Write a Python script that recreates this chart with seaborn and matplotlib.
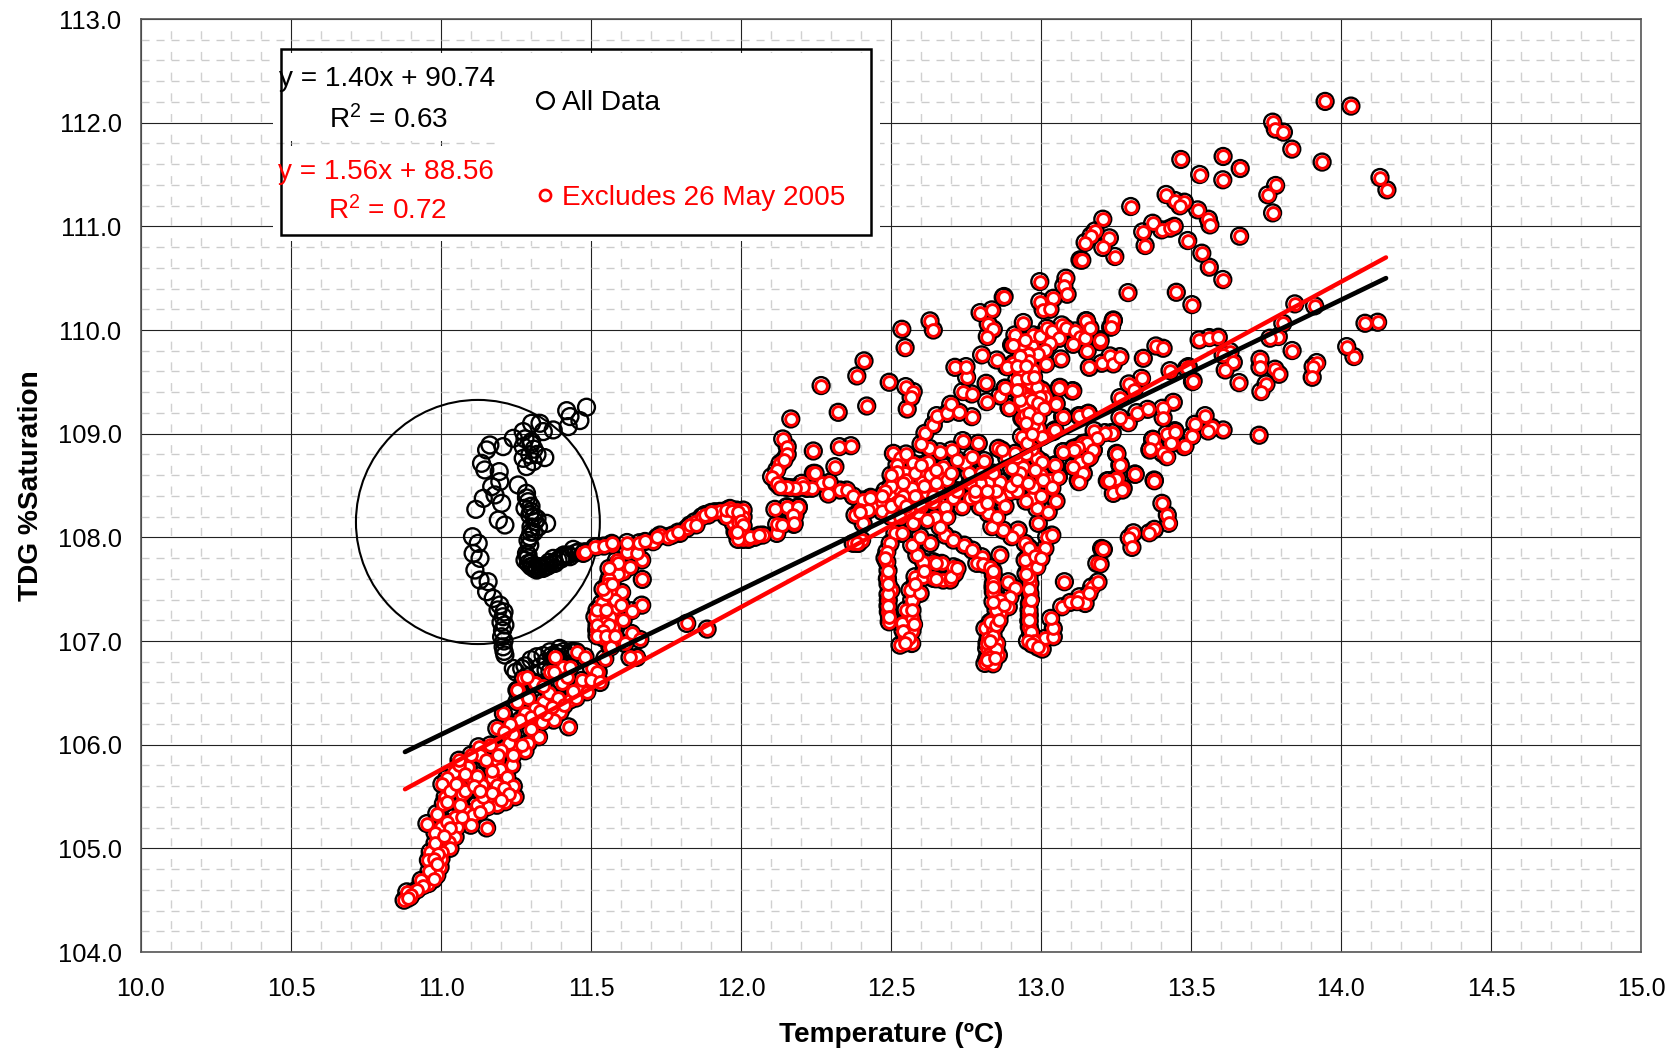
import numpy as np
import pandas as pd
import matplotlib
matplotlib.use("Agg")
import matplotlib.pyplot as plt
import seaborn as sns
from matplotlib.lines import Line2D
from matplotlib.patches import Ellipse, Rectangle
from matplotlib.ticker import MultipleLocator

# --- points that only exist in "All Data" (26 May 2005) ---
may26_pts = [
    (11.485,109.255),(11.463,109.126),(11.419,109.222),(11.43,109.165),(11.424,109.068),(11.374,109.036),
    (11.33,109.1),(11.302,109.1),(11.341,109.02),(11.274,109.02),(11.241,108.955),(11.207,108.875),
    (11.163,108.891),(11.152,108.843),(11.302,108.923),(11.274,108.875),(11.346,108.769),(11.296,108.795),
    (11.274,108.762),(11.285,108.682),(11.307,108.73),(11.135,108.714),(11.146,108.65),(11.194,108.634),
    (11.196,108.537),(11.169,108.489),(11.18,108.409),(11.202,108.328),(11.141,108.376),(11.116,108.27),
    (11.191,108.167),(11.213,108.119),(11.257,108.505),(11.285,108.425),(11.291,108.344),(11.28,108.28),
    (11.296,108.215),(11.313,108.151),(11.352,108.135),(11.296,108.006),(11.296,107.926),(11.285,107.845),
    (11.291,107.749),(11.319,107.685),(11.352,107.717),(11.38,107.749),(11.402,107.813),(11.441,107.884),
    (11.43,107.813),(11.374,107.797),(11.33,107.717),(11.105,108.006),(11.124,107.942),(11.107,107.845),
    (11.13,107.797),(11.113,107.685),(11.13,107.588),(11.157,107.572),(11.152,107.475),(11.174,107.411),
    (11.196,107.347),(11.207,107.234),(11.213,107.154),(11.202,107.041),(11.213,106.864),(11.207,106.944),
    (11.241,106.735),(11.269,106.735),(11.319,106.848),(11.363,106.896),(11.43,106.896),(11.385,106.848),
    (11.33,106.751),(11.396,106.928),(11.3,108.05),(11.29,107.97),(11.29,107.8),(11.305,107.72),
    (11.335,107.7),(11.36,107.76),(11.41,107.83),(11.46,107.86),(11.3,108.1),(11.285,108.38),
    (11.28,107.78),(11.3,107.72),(11.31,107.7),(11.32,107.69),(11.34,107.7),(11.345,107.72),
    (11.36,107.73),(11.375,107.75),(11.39,107.78),(11.4,107.79),(11.415,107.82),(11.425,107.83),
    (11.45,107.85),(11.29,107.83),(11.3,107.75),(11.32,107.72),(11.25,106.7),(11.28,106.76),
    (11.3,106.82),(11.34,106.86),(11.35,106.8),(11.37,106.86),(11.39,106.88),(11.41,106.9),
    (11.44,106.9),(11.42,106.85),(11.4,106.8),(11.35,106.72),(11.21,106.9),(11.205,107.1),
    (11.21,107.0),(11.2,107.18),(11.21,107.28),(11.19,107.3),(11.3,108.9),(11.31,108.85),
    (11.28,108.95),(11.32,108.8),(11.3,108.3),(11.3,108.25),(11.31,108.2),(11.32,108.18),
    (11.325,108.1),(11.31,108.05),
]

# --- points in both series ---
low_pts = [
    (11.452,106.896),(11.48,106.848),(11.38,106.848),(11.407,106.751),(11.524,106.703),(11.363,106.703),
    (11.313,106.591),(11.274,106.639),(11.257,106.526),(11.502,106.735),(11.563,106.944),(11.546,106.831),
    (11.375,106.703),(11.314,106.597),(11.286,106.655),(11.253,106.526),(11.519,106.703),(11.464,106.559),
    (11.403,106.591),(11.486,106.51),(11.43,106.43),(11.397,106.317),(11.425,106.172),(11.375,106.237),
    (11.341,106.414),(11.314,106.35),(11.28,106.301),(11.336,106.221),(11.325,106.076),(11.291,106.018),
    (11.28,105.941),(11.247,105.941),(11.225,106.012),(11.186,106.156),(11.208,106.301),(11.264,106.237),
    (11.253,106.414),(11.125,105.98),(11.13,105.899),(11.164,105.996),(11.186,105.851),(11.236,105.802),
    (11.197,105.77),(11.091,105.786),(11.044,105.738),(11.019,105.674),(11.003,105.619),(11.064,105.593),
    (11.103,105.674),(11.136,105.61),(11.169,105.683),(11.186,105.61),(11.219,105.69),(11.241,105.6),
    (11.247,105.497),(11.214,105.449),(11.186,105.416),(11.155,105.481),(11.155,105.4),(11.119,105.416),
    (11.086,105.352),(11.108,105.32),(11.069,105.522),(11.064,105.416),(11.014,105.497),(11.008,105.432),
    (10.986,105.336),(10.953,105.239),(11.0,105.207),(11.099,105.223),(11.152,105.197),(11.053,105.207),
    (11.047,105.111),(11.025,105.063),(11.03,105.0),(11.002,104.966),(10.964,104.966),(10.958,104.886),
    (10.997,104.821),(10.986,104.741),(10.958,104.66),(10.934,104.692),(10.908,104.58),(10.886,104.58),
    (10.877,104.5),(10.897,104.532),(11.36,106.5),(11.42,106.65),(11.45,106.45),(11.39,106.45),
    (11.35,106.3),(11.3,106.15),(11.24,106.1),(11.2,105.95),(11.15,105.85),(11.1,105.9),
    (11.06,105.8),(11.12,105.7),(11.08,105.55),(11.03,105.55),(11.14,105.5),(11.2,105.52),
    (11.045,105.3),(11.02,105.25),(10.98,105.15),(10.98,105.05),(11.0,104.9),(10.96,104.78),
    (11.02,105.45),(11.05,105.62),(11.08,105.72),(11.11,105.6),(11.13,105.55),(11.17,105.53),
    (11.21,105.58),(11.225,105.52),(11.2,105.47),(11.13,105.35),(11.07,105.3),(11.03,105.2),
    (11.01,105.12),(10.99,104.95),(10.975,104.9),(10.985,104.85),(10.975,104.7),(10.94,104.64),
    (10.92,104.6),(10.9,104.55),(10.89,104.52),(11.06,105.85),(11.17,105.75),(11.19,105.9),
    (11.24,105.9),(11.27,106.0),(11.3,106.27),(11.33,106.32),(11.37,106.36),(11.41,106.38),
    (11.44,106.52),(11.47,106.62),(11.5,106.62),(11.53,106.6),(11.43,106.75),(11.34,106.57),
    (11.29,106.45),(11.23,106.2),(11.21,106.12),
]
trail_pts = [
    (11.474,107.845),(11.519,107.91),(11.569,107.926),(11.48,107.861),(11.513,107.909),(11.543,107.916),
    (11.569,107.942),(11.585,107.781),(11.607,107.668),(11.63,107.716),(11.619,107.855),(11.669,107.781),
    (11.652,107.845),(11.661,107.948),(11.707,107.958),(11.73,108.022),(11.757,108.006),(11.796,108.038),
    (11.819,108.086),(11.846,108.151),(11.869,108.199),(11.891,108.215),(11.913,108.247),(11.941,108.231),
    (11.963,108.279),(11.985,108.263),(12.007,108.263),(12.007,108.199),(11.974,108.134),(12.007,108.109),
    (11.98,108.054),(11.996,108.022),(12.007,107.98),(12.024,107.98),(12.046,108.0),(12.072,108.022),
    (12.119,108.038),(12.119,108.125),(12.176,108.125),(12.18,108.215),(12.113,108.27),(12.152,108.289),
    (12.191,108.289),(11.671,107.594),(11.669,107.346),(11.602,107.469),(11.563,107.485),(11.569,107.588),
    (11.535,107.362),(11.58,107.314),(11.635,107.292),(11.53,107.272),(11.607,107.201),(11.563,107.234),
    (11.513,107.234),(11.546,107.17),(11.574,107.121),(11.519,107.105),(11.543,107.025),(11.635,107.073),
    (11.663,107.015),(11.613,106.976),(11.566,106.944),(11.652,106.841),(11.63,106.841),(11.819,107.17),
    (11.887,107.115),(11.59,107.65),(11.56,107.6),(11.58,107.4),(11.55,107.45),(11.6,107.35),
    (11.52,107.3),(11.56,107.15),(11.59,107.75),(11.77,108.02),(11.83,108.12),(11.88,108.22),
    (11.93,108.25),(11.95,108.2),(11.99,108.15),(12.0,108.06),(12.139,108.949),(12.154,108.875),
    (12.154,108.801),(12.13,108.714),(12.119,108.649),(12.102,108.585),(12.119,108.521),(12.141,108.488),
    (12.163,108.479),(12.185,108.472),(12.202,108.521),(12.219,108.472),(12.241,108.617),(12.269,108.521),
    (12.294,108.53),(12.313,108.682),(12.291,108.418),(12.241,108.833),(12.328,108.875),(12.366,108.884),
    (12.33,108.456),(12.352,108.456),(12.374,108.398),(12.407,108.36),(12.432,108.386),(12.441,108.289),
    (12.396,108.263),(12.38,108.215),(12.407,108.134),(12.391,107.942),(12.374,107.942),(12.402,107.974),
    (12.388,107.942),(12.236,108.473),(12.208,108.489),(12.18,108.479),(12.152,108.482),(12.13,108.489),
    (12.152,108.295),(12.191,108.295),(12.174,108.215),(12.177,108.135),(12.136,108.119),(12.143,108.746),
    (12.247,108.617),(12.424,108.263),(12.397,108.247),(11.62,107.95),(11.68,107.96),(11.72,108.0),
    (11.79,108.05),(11.85,108.12),(11.9,108.24),(11.95,108.26),(11.97,108.25),(11.99,108.24),
    (12.0,108.16),(12.005,108.12),(12.0,108.02),(11.99,107.98),(11.985,108.05),(12.03,108.0),
    (12.06,108.02),(11.56,107.7),(11.555,107.55),(11.54,107.5),(11.57,107.55),(11.55,107.3),
    (11.52,107.15),(11.54,107.1),(11.52,107.05),(11.55,107.05),(11.58,107.05),
]
finger_pts = [
    (12.513,108.038),(12.497,107.942),(12.486,107.861),(12.486,107.765),(12.488,107.604),(12.5,107.491),
    (12.491,107.395),(12.491,107.282),(12.494,107.185),(12.536,107.169),(12.569,107.224),(12.563,107.105),
    (12.569,106.976),(12.53,106.96),(12.547,107.041),(12.569,107.395),(12.563,107.491),(12.597,107.459),
    (12.58,107.62),(12.608,107.613),(12.641,107.604),(12.674,107.588),(12.697,107.588),(12.713,107.652),
    (12.708,107.716),(12.669,107.749),(12.641,107.765),(12.608,107.765),(12.586,107.829),(12.569,107.925),
    (12.536,108.038),(12.597,108.006),(12.63,107.942),(12.68,108.022),(12.708,107.974),(12.744,107.925),
    (12.771,107.877),(12.802,107.813),(12.786,107.749),(12.808,107.742),(12.863,107.829),(12.83,107.716),
    (12.841,107.636),(12.841,107.556),(12.841,107.475),(12.891,107.572),(12.913,107.507),(12.897,107.427),
    (12.863,107.395),(12.891,107.33),(12.863,107.266),(12.841,107.202),(12.813,107.121),(12.841,107.105),
    (12.824,107.025),(12.852,106.976),(12.819,106.928),(12.858,106.864),(12.819,106.832),(12.841,106.8),
    (12.813,106.784),(12.958,107.813),(12.974,107.765),(12.958,107.7),(12.947,107.781),(12.986,107.716),
    (12.963,107.556),(12.963,107.459),(12.961,107.362),(12.961,107.25),(12.961,107.137),(12.969,107.041),
    (12.986,106.96),(13.004,106.922),(13.013,107.025),(13.041,107.041),(13.041,107.121),(13.032,107.218),
    (13.069,107.33),(13.097,107.372),(13.128,107.427),(13.147,107.362),(13.169,107.523),(13.078,107.572),
    (13.186,107.749),(13.202,107.893),(13.019,108.006),(13.013,107.893),(13.036,108.022),(12.991,108.135),
    (12.986,108.279),(12.969,108.376),(13.024,108.247),(12.947,107.942),(12.924,108.07),(12.902,108.006),
    (12.874,108.07),(12.836,108.103),(12.824,108.231),(12.852,108.199),(12.797,108.295),(12.49,107.68),
    (12.49,107.45),(12.49,107.34),(12.55,107.3),(12.57,107.1),(12.55,107.0),(12.98,107.85),
    (12.96,107.62),(12.96,107.5),(12.96,107.3),(12.96,107.19),(12.965,107.09),(12.975,107.0),
    (12.85,107.3),(12.83,107.18),(12.84,107.05),(12.83,106.88),(12.85,106.92),(12.83,106.8),
    (12.84,107.68),(12.84,107.52),(12.49,107.55),(12.495,107.23),(12.48,107.8),(12.54,107.1),
    (12.56,107.03),(12.545,106.98),(12.575,107.16),(12.57,107.3),(12.58,107.55),(12.61,107.68),
    (12.65,107.6),(12.7,107.62),(12.72,107.7),(12.65,107.75),(12.82,106.98),(12.83,106.85),
    (12.85,107.15),(12.84,106.78),(12.82,106.82),(12.86,107.2),(12.875,107.35),(12.84,107.38),
    (12.83,107.0),(12.845,106.84),(12.96,107.9),(12.95,107.65),(12.965,107.4),(12.96,107.2),
    (12.955,107.0),(12.97,106.97),(12.99,106.94),(12.98,107.82),(13.0,107.8),
]
center_pts = [
    (12.508,108.81),(12.53,108.762),(12.55,108.804),(12.547,108.617),(12.574,108.714),(12.597,108.617),
    (12.624,108.73),(12.602,108.537),(12.661,108.601),(12.674,108.682),(12.508,108.553),(12.497,108.424),
    (12.53,108.456),(12.586,108.408),(12.552,108.36),(12.519,108.344),(12.469,108.344),(12.43,108.376),
    (12.619,108.424),(12.652,108.456),(12.686,108.553),(12.736,108.295),(12.708,108.376),(12.763,108.376),
    (12.68,108.295),(12.647,108.199),(12.686,108.199),(12.574,108.135),(12.591,108.231),(12.619,108.167),
    (12.663,108.102),(12.628,108.859),(12.663,108.826),(12.702,108.842),(12.739,108.933),(12.791,108.907),
    (12.747,108.714),(12.811,108.74),(12.769,108.778),(12.858,108.859),(12.886,108.762),(12.919,108.778),
    (12.952,108.907),(13.002,108.987),(13.041,109.02),(13.074,108.826),(13.108,108.859),(13.141,108.907),
    (13.174,108.842),(13.236,109.01),(12.902,108.666),(12.863,108.537),(12.919,108.553),(12.897,108.44),
    (12.974,108.489),(12.941,108.682),(12.98,108.649),(12.986,108.762),(13.047,108.698),(13.036,108.473),
    (13.058,108.585),(13.108,108.682),(13.124,108.553),(13.136,108.714),(13.163,108.778),(12.824,108.521),
    (12.797,108.521),(12.763,108.521),(12.863,108.392),(12.819,108.328),(12.613,109.003),(12.641,109.084),
    (12.652,109.174),(12.686,109.196),(12.699,109.283),(12.727,109.206),(12.769,109.164),(12.739,109.406),
    (12.769,109.383),(12.752,109.544),(12.713,109.64),(12.75,109.647),(12.802,109.76),(12.817,109.486),
    (12.819,109.309),(12.863,109.364),(12.88,109.438),(12.894,109.251),(12.852,109.711),(12.888,109.647),
    (12.52,108.7),(12.55,108.55),(12.58,108.62),(12.61,108.5),(12.52,108.63),(12.5,108.5),
    (12.54,108.4),(12.57,108.48),(12.63,108.6),(12.65,108.52),(12.6,108.3),(12.64,108.34),
    (12.72,108.75),(12.7,108.62),(12.76,108.62),(12.8,108.62),(12.84,108.62),(12.56,108.25),
    (12.48,108.45),(12.47,108.25),(12.5,108.2),(12.53,108.2),(12.6,108.9),(12.92,108.45),
    (12.95,108.35),(12.78,108.4),(12.88,108.3),(13.0,108.4),(13.05,108.35),(12.5,108.3),
    (12.53,108.35),(12.55,108.3),(12.54,108.52),(12.5,108.6),(12.47,108.4),(12.58,108.4),
    (12.64,108.4),(12.6,108.7),(12.65,108.65),(12.72,108.45),(12.78,108.45),(12.85,108.45),
    (12.82,108.45),(12.9,108.5),(12.93,108.62),(13.0,108.6),(13.03,108.55),(12.94,109.55),
    (12.96,109.45),(12.97,109.4),(12.95,109.3),(12.94,109.45),(12.93,109.6),(12.95,109.82),
    (12.97,109.85),(12.99,109.05),(12.97,108.85),(12.95,108.8),
]
upper_pts = [
    (12.797,110.168),(12.836,110.194),(12.874,110.316),(12.824,110.059),(12.841,110.007),(12.821,109.937),
    (12.941,110.072),(12.913,109.953),(12.902,109.856),(12.958,109.776),(12.93,109.743),(12.908,109.679),
    (12.93,109.582),(12.963,109.582),(12.919,109.518),(12.963,109.486),(12.958,109.357),(13.008,109.39),
    (12.941,109.261),(12.936,109.148),(12.974,109.132),(12.958,109.068),(13.063,109.447),(13.106,109.415),
    (13.05,109.293),(13.074,109.164),(13.158,109.196),(13.13,109.171),(12.166,109.142),(12.267,109.464),
    (12.386,109.557),(12.41,109.702),(12.324,109.206),(12.419,109.267),(12.494,109.496),(12.549,109.454),
    (12.574,109.406),(12.567,109.351),(12.554,109.238),(12.536,110.007),(12.547,109.83),(12.63,110.088),
    (12.641,110.0),(12.996,110.467),(13.083,110.5),(13.076,110.429),(13.087,110.345),(13.041,110.306),
    (12.996,110.274),(13.007,110.194),(13.03,110.2),(12.877,110.323),(13.13,110.677),(12.974,109.953),
    (12.996,109.943),(13.019,110.017),(13.035,109.991),(13.069,110.049),(13.082,110.017),(13.113,109.991),
    (13.152,110.088),(13.161,110.017),(13.13,109.93),(13.146,109.92),(13.107,109.862),(13.061,109.92),
    (13.03,109.872),(13.013,109.808),(12.991,109.766),(12.957,109.766),(12.935,109.862),(12.907,109.856),
    (13.196,109.888),(13.154,109.801),(13.066,109.721),(13.016,109.673),(13.241,110.091),(13.235,110.033),
    (13.161,109.64),(13.202,109.679),(13.23,109.75),(13.241,109.673),(13.263,109.743),(13.383,109.846),
    (13.407,109.824),(13.341,109.727),(13.43,109.608),(13.491,109.647),(13.335,109.534),(13.293,109.48),
    (13.31,109.422),(13.263,109.348),(13.505,109.502),(12.969,109.599),(12.963,109.486),(12.88,109.438),
    (12.885,109.647),(12.93,109.422),(13.002,109.422),(13.013,109.357),(13.061,109.444),(13.104,109.412),
    (12.957,109.348),(12.894,109.251),(12.943,109.261),(13.002,109.277),(12.985,109.229),(13.05,109.286),
    (12.939,109.155),(12.974,109.084),(13.072,109.164),(13.126,109.174),(13.157,109.196),(13.046,109.036),
    (13.002,108.971),(12.935,108.971),(13.177,109.029),(13.237,109.01),(13.213,109.01),(13.185,108.955),
    (13.152,108.913),(13.319,109.203),(13.355,109.235),(13.291,109.106),(13.263,109.155),(13.441,109.303),
    (13.405,109.245),(13.407,109.155),(13.446,109.029),(13.419,108.997),(13.566,109.058),(13.502,108.977),
    (13.477,108.875),(13.435,108.907),(13.372,108.945),(13.38,108.875),(13.363,108.842),(13.405,108.81),
    (13.419,108.778),(13.252,108.81),(13.263,108.698),(13.252,108.569),(13.221,108.546),(13.313,108.611),
    (13.377,108.553),(13.274,108.473),(13.124,108.875),(13.174,108.842),(13.11,108.842),(13.074,108.826),
    (13.046,108.698),(13.002,108.73),(13.13,108.73),(13.157,108.762),(13.107,108.682),(13.141,108.617),
    (13.126,108.537),(13.057,108.585),(12.98,108.649),(12.919,108.553),(12.902,108.666),(13.007,108.553),
    (12.957,108.521),(13.035,108.482),(12.869,108.842),(12.913,108.81),(12.952,108.907),(12.974,109.615),
    (12.952,109.534),(12.985,109.454),(12.996,109.357),(12.969,109.325),(12.946,109.18),(12.93,109.325),
    (12.919,109.422),(12.96,109.7),(12.93,109.75),(12.945,109.9),(12.92,109.65),(12.95,109.65),
    (12.975,109.55),(12.99,109.3),(12.96,109.2),(12.95,109.1),(12.97,109.0),(12.99,109.15),(13.01,109.25),
]
right_pts = [
    (13.947,112.205),(14.033,112.16),(13.772,112.005),(13.781,111.938),(13.808,111.909),(13.836,111.745),
    (13.937,111.62),(13.607,111.674),(13.664,111.558),(13.606,111.449),(13.466,111.645),(13.529,111.5),
    (14.13,111.471),(14.153,111.352),(13.782,111.394),(13.756,111.304),(13.772,111.13),(13.417,111.307),
    (13.447,111.249),(13.478,111.233),(13.463,111.198),(13.522,111.159),(13.558,111.069),(13.563,111.014),
    (13.662,110.905),(13.299,111.191),(13.206,111.069),(13.18,110.956),(13.167,110.911),(13.147,110.844),
    (13.228,110.889),(13.206,110.796),(13.246,110.709),(13.136,110.673),(13.372,111.03),(13.339,110.947),
    (13.347,110.815),(13.402,110.966),(13.43,110.982),(13.444,111.0),(13.489,110.863),(13.536,110.741),
    (13.561,110.606),(13.606,110.487),(13.29,110.361),(13.451,110.364),(13.503,110.245),(13.846,110.252),
    (13.912,110.233),(13.806,110.065),(14.08,110.065),(14.122,110.075),(13.241,110.097),(13.232,110.027),
    (13.15,110.09),(13.163,110.017),(13.197,109.904),(13.791,109.937),(13.763,109.921),(13.837,109.802),
    (14.019,109.84),(14.043,109.744),(13.527,109.905),(13.561,109.927),(13.591,109.93),(13.63,109.792),
    (13.607,109.76),(13.641,109.689),(13.614,109.615),(13.66,109.493),(13.73,109.718),(13.73,109.641),
    (13.78,109.622),(13.793,109.573),(13.75,109.48),(13.733,109.406),(13.919,109.686),(13.907,109.647),
    (13.904,109.544),(13.485,109.631),(13.507,109.509),(13.547,109.174),(13.513,109.091),(13.503,108.981),
    (13.48,108.882),(13.569,109.062),(13.607,109.036),(13.557,109.026),(13.727,108.985),(13.447,109.019),
    (13.434,108.907),(13.373,108.945),(13.364,108.852),(13.253,108.804),(13.264,108.698),(13.25,108.559),
    (13.225,108.546),(13.241,108.424),(13.271,108.456),(13.314,108.608),(13.378,108.546),(13.403,108.328),
    (13.421,108.215),(13.425,108.135),(13.378,108.077),(13.361,108.044),(13.308,108.044),(13.294,107.996),
    (13.303,107.903),(13.208,107.884),(13.197,107.742),(13.19,107.57),(13.16,107.46),(13.12,107.38),
]

# fitted lines, endpoints
fit_x = [10.88, 14.15]
all_fit_y = [105.93, 110.50]
excl_fit_y = [105.57, 110.70]

x_ticks = np.arange(10.0, 15.5, 0.5)
y_ticks = np.arange(104.0, 114.0, 1.0)

W, H = 1671, 1051


def fx(px):
    return px / W


def fy(py):
    return 1 - py / H


sns.set_theme(style="white")
plt.rcParams["font.family"] = ["Liberation Sans", "DejaVu Sans"]
plt.rcParams["mathtext.fontset"] = "custom"
plt.rcParams["mathtext.rm"] = "Liberation Sans"
plt.rcParams["mathtext.default"] = "regular"

fig = plt.figure(figsize=(W / 100, H / 100), dpi=100, facecolor="white")
ax = fig.add_axes([fx(141), fy(952), (1641 - 141) / W, (952 - 19) / H])

shared = pd.DataFrame(low_pts + trail_pts + finger_pts + center_pts + upper_pts + right_pts, columns=["t", "tdg"])
only = pd.DataFrame(may26_pts, columns=["t", "tdg"])
every = pd.concat([only, shared], ignore_index=True)

# all data: black open rings, excluded subset: red ring on white
sns.scatterplot(data=every, x="t", y="tdg", s=148, facecolor="none", edgecolor="black", linewidth=1.7, ax=ax, zorder=3, legend=False)
ax.add_patch(Ellipse((11.123, 108.148), 0.813, 2.355, fill=False, edgecolor="black", linewidth=1.5, zorder=4))
sns.scatterplot(data=shared, x="t", y="tdg", s=72, facecolor="white", edgecolor="#ff0000", linewidth=2.1, ax=ax, zorder=5, legend=False)
sns.lineplot(x=fit_x, y=all_fit_y, color="black", linewidth=3.4, ax=ax, zorder=6, legend=False)
sns.lineplot(x=fit_x, y=excl_fit_y, color="#ff0000", linewidth=3.2, ax=ax, zorder=7, legend=False)

ax.set_xlim(10, 15)
ax.set_ylim(104, 113)
ax.set_xticks(x_ticks)
ax.set_yticks(y_ticks)
ax.set_xticklabels([f"{v:.1f}" for v in x_ticks])
ax.set_yticklabels([f"{v:.1f}" for v in y_ticks])
ax.xaxis.set_minor_locator(MultipleLocator(0.1))
ax.yaxis.set_minor_locator(MultipleLocator(0.2))
ax.set_axisbelow(True)
ax.grid(which="major", color="#222222", linewidth=0.8, zorder=1)
ax.grid(which="minor", axis="x", color="#d0d0d0", linewidth=1.0, linestyle=(13, (5.8, 9.1)), zorder=0)
ax.grid(which="minor", axis="y", color="#cccccc", linewidth=1.0, linestyle=(0, (5.8, 5)), zorder=0)
ax.tick_params(axis="x", which="major", length=6, width=0.8, color="black", labelsize=18, labelcolor="black", pad=12)
ax.tick_params(axis="y", which="major", length=6, width=0.8, color="black", labelsize=18.4, labelcolor="black", pad=8)
ax.tick_params(axis="both", which="minor", length=0)
for s in ax.spines.values():
    s.set_visible(True)
    s.set_color("#555555")
    s.set_linewidth(1.2)

ax.set_xlabel("")
ax.set_ylabel("")
fig.text(fx(891), fy(1035), "Temperature (ºC)", ha="center", va="center", fontsize=20.2, fontweight="bold", color="black")
fig.text(fx(31), fy(486), "TDG %Saturation", ha="center", va="center", rotation=90, fontsize=20.2, fontweight="bold", color="black")

# legend block: white panels with the gridline showing through between the equations
for x0, y0, x1, y1 in [(273, 53, 498, 141), (273, 146, 498, 241), (498, 53, 880, 241)]:
    ax.add_patch(Rectangle((fx(x0), fy(y1)), fx(x1 - x0), (y1 - y0) / H, transform=fig.transFigure,
                           facecolor="white", edgecolor="none", zorder=8, clip_on=False))
ax.add_patch(Rectangle((fx(281), fy(235)), fx(590), 186 / H, transform=fig.transFigure, fill=False,
                       edgecolor="black", linewidth=1.8, zorder=9, clip_on=False))

fig.text(fx(279), fy(79), "y = 1.40x + 90.74", ha="left", va="center", fontsize=20.2, color="black")
fig.text(fx(329), fy(120), "R$^{2}$ = 0.63", ha="left", va="center", fontsize=20.2, color="black")
fig.text(fx(278), fy(172), "y = 1.56x + 88.56", ha="left", va="center", fontsize=20.2, color="#ff0000")
fig.text(fx(328), fy(211), "R$^{2}$ = 0.72", ha="left", va="center", fontsize=20.2, color="#ff0000")
fig.text(fx(562), fy(103), "All Data", ha="left", va="center", fontsize=20.2, color="black")
fig.text(fx(562), fy(198), "Excludes 26 May 2005", ha="left", va="center", fontsize=20.2, color="#ff0000")
fig.add_artist(Line2D([fx(545)], [fy(100)], marker="o", markersize=12, markerfacecolor="none",
                      markeredgecolor="black", markeredgewidth=1.7, linestyle="none", zorder=10))
fig.add_artist(Line2D([fx(545)], [fy(195)], marker="o", markersize=8, markerfacecolor="white",
                      markeredgecolor="#ff0000", markeredgewidth=1.9, linestyle="none", zorder=10))

fig.savefig("out.png", dpi=100, facecolor="white")
